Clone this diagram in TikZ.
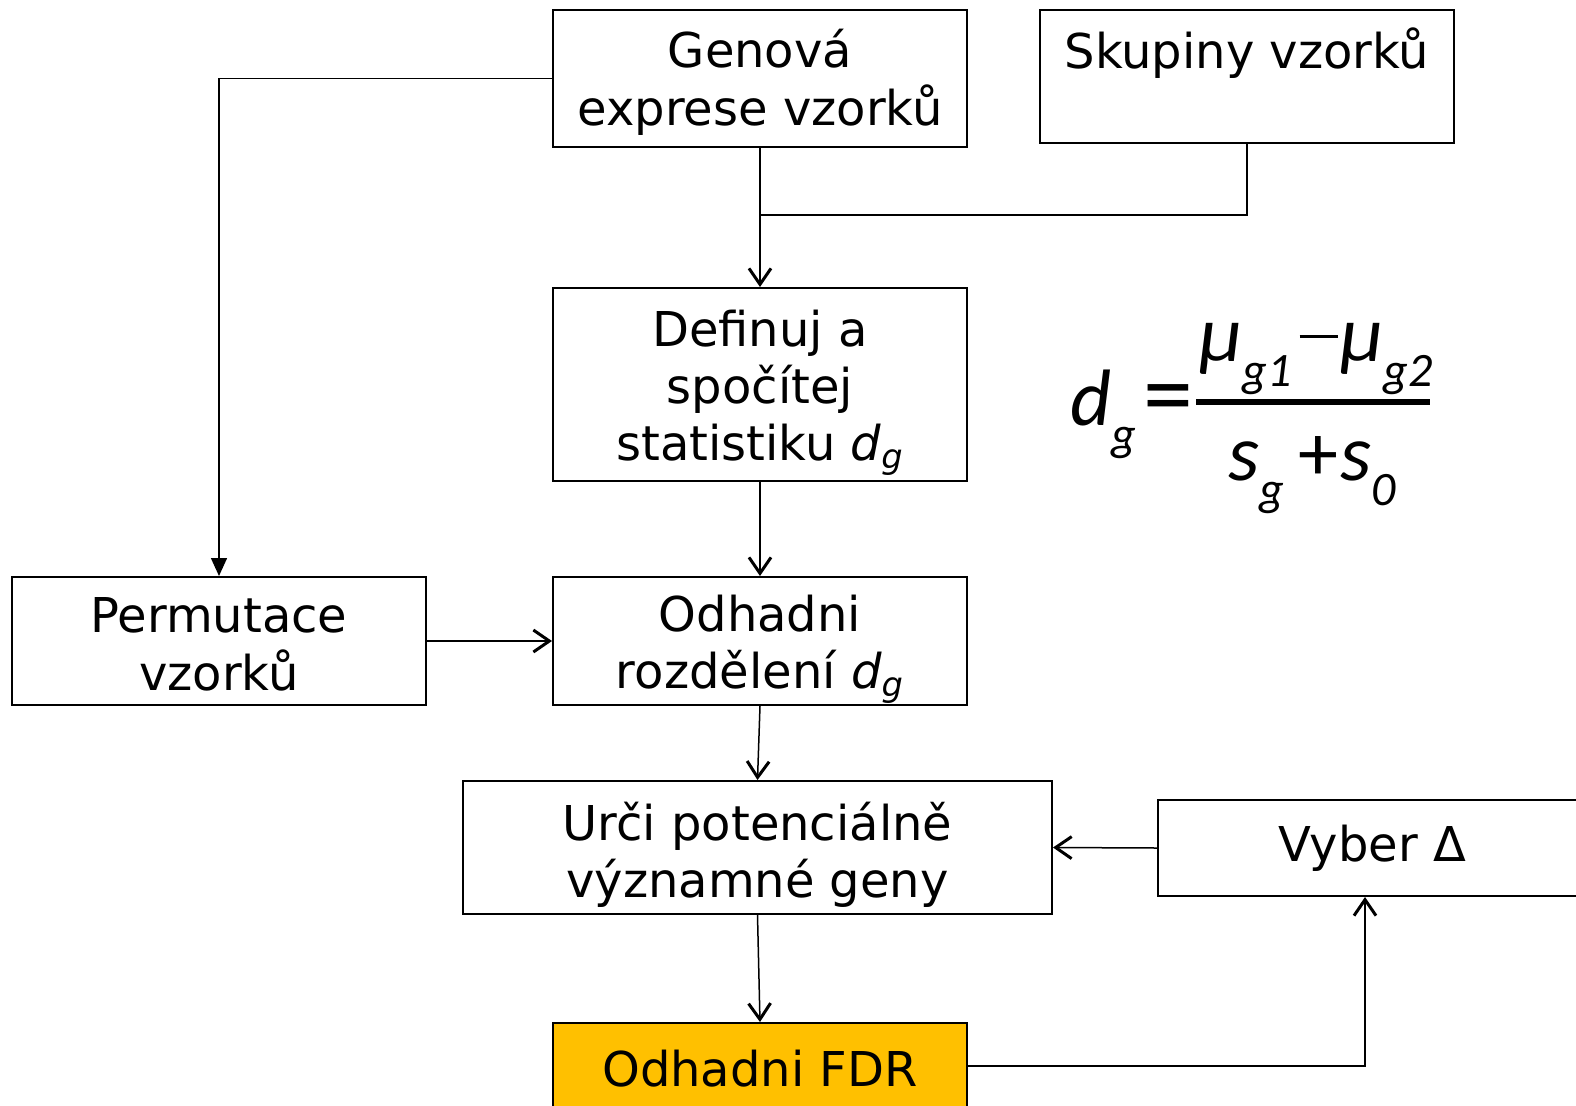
\documentclass[tikz,border=0pt]{standalone}
\usepackage{fontspec}
\setmainfont{DejaVu Sans}
\newfontfamily\eqfont{Carlito}
\usepackage{tikz}
\usetikzlibrary{arrows.meta,positioning}
\definecolor{samGold}{HTML}{FFC000}
\newcommand{\dgv}{\textit{d}\textsubscript{\textit{g}}}
\newcommand{\boxtext}[2]{\raisebox{-#1}[\height][\depth]{\begin{tabular}{@{}c@{}}#2\end{tabular}}}
\newcommand{\eqsub}[1]{\raisebox{-12.5pt}{\fontsize{24}{24}\selectfont #1}}
\newcommand{\eqminus}{\hspace{4pt}\rule[11.5pt]{19pt}{1.7pt}\hspace{1.5pt}}
\newcommand{\eqplus}{\hspace{7pt}{\upshape+}\hspace{1pt}}
\tikzset{
  sam diagram/.style={x=0.5pt, y=-0.5pt, font=\fontsize{24}{28.5}\selectfont,
    line join=miter},
  sam box/.style={draw=black, fill=white, line width=1pt,
    minimum width=207pt, inner sep=2pt},
  sam key box/.style={sam box, fill=samGold},
  sam arrow/.style={-{Straight Barb[length=8pt,width=11pt,line width=1.5pt]},
    line width=0.75pt},
  sam filled/.style={-{Triangle[length=9pt,width=8pt]}, line width=0.75pt},
  sam line/.style={line width=0.75pt},
  sam formula/.style={font=\fontsize{40}{48}\selectfont\eqfont\itshape,
    inner sep=0pt, anchor=base},
  sam bar/.style={line width=3pt}
}
\begin{document}
\begin{tikzpicture}[sam diagram]
\useasboundingbox (0,0) rectangle (1576,1105);
\node[sam box, minimum height=68.5pt] (genova) at (760,78.5) {\boxtext{3.3pt}{Genová\\exprese vzorků}};
\node[sam box, minimum height=66.5pt] (skupiny) at (1247,76.5) {\boxtext{4.3pt}{Skupiny vzorků\\~}};
\node[sam box, minimum height=96.5pt] (defin) at (760,384.5) {\boxtext{3.9pt}{Definuj a\\spočítej\\statistiku \dgv}};
\node[sam box, minimum height=64pt] (perm) at (219,641) {\boxtext{4.5pt}{Permutace\\vzorků}};
\node[sam box, minimum height=64pt] (odhad) at (760,641) {\boxtext{4pt}{Odhadni\\rozdělení \dgv}};
\node[sam box, minimum height=66.5pt, minimum width=294.5pt] (urci) at (757.5,847.5) {\boxtext{5pt}{Urči potenciálně\\významné geny}};
\node[sam box, minimum height=48pt, minimum width=214pt] (vyber) at (1372,848) {\boxtext{1pt}{Vyber Δ}};
\node[sam key box, minimum height=43pt] (fdr) at (760,1066) {\boxtext{4.3pt}{Odhadni FDR}};
% formula
\node[sam formula, anchor=base west] (dgleft) at (1070,425) {d\eqsub{g}};
\node[sam formula, anchor=base west, font=\fontsize{50}{56}\selectfont\eqfont] (rovno) at (1143,427) {=};
\node[sam formula] (citatel) at (1316,361) {μ\eqsub{g1}\eqminus μ\eqsub{g2}};
\node[sam formula] (jmenovatel) at (1312,480) {s\eqsub{g}\eqplus s\eqsub{0}};
\draw[sam bar] (1196,402) -- (1430,402);
\coordinate (merge) at (760,215);
% connectors
\draw[sam filled] (genova.west) -| (perm.north);
\draw[sam arrow] (genova.south) -- (defin.north);
\draw[sam line] (skupiny.south) |- (merge);
\draw[sam arrow] (defin.south) -- (odhad.north);
\draw[sam arrow] (perm.east) -- (odhad.west);
\draw[sam arrow] (odhad.south) -- (urci.north);
\draw[sam arrow] (urci.south) -- (fdr.north);
\draw[sam arrow] (vyber.west) -- (urci.east);
\draw[sam arrow] (fdr.east) -| ([xshift=-3.5pt]vyber.south);
\end{tikzpicture}
\end{document}
